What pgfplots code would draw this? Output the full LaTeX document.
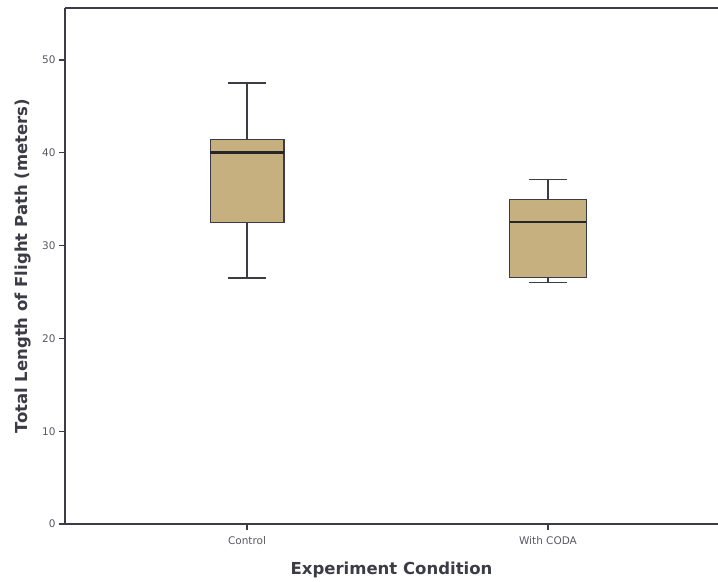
\documentclass[border=0pt]{standalone}
\usepackage{pgfplots}
\pgfplotsset{compat=1.18}
\usepackage{fontspec}
\setmainfont{DejaVu Sans}
\definecolor{boxfill}{RGB}{198,176,128}
\definecolor{axcol}{RGB}{60,60,70}
\begin{document}
\begin{tikzpicture}
\begin{axis}[
  scale only axis,
  width=653pt, height=516pt,
  xmin=0.395, xmax=2.565,
  ymin=0, ymax=55.6,
  axis lines=left,
  axis line style={-, draw=axcol, line width=1.2pt},
  ytick={0,10,20,30,40,50},
  xtick={1,2},
  xticklabels={Control, With CODA},
  tick align=outside,
  major tick length=6pt,
  tick style={draw=axcol, line width=1.2pt},
  tick label style={font=\fontsize{10.5}{12}\selectfont, text=axcol!85},
  xticklabel style={yshift=-3pt},
  /pgf/number format/assume math mode=true,
  xlabel={\bfseries Experiment Condition},
  ylabel={\bfseries Total Length of Flight Path (meters)},
  label style={font=\fontsize{16.5}{19}\selectfont, text=axcol},
  xlabel style={yshift=-10pt},
  ylabel style={yshift=4pt},
]
% Control
\addplot[draw=axcol, line width=1.4pt] coordinates {(1,26.5) (1,32.5)};
\addplot[draw=axcol, line width=1.4pt] coordinates {(1,41.4) (1,47.5)};
\addplot[draw=axcol, line width=1.4pt] coordinates {(0.9375,26.5) (1.0625,26.5)};
\addplot[draw=axcol, line width=1.4pt] coordinates {(0.9375,47.5) (1.0625,47.5)};
\addplot[fill=boxfill, draw=axcol, line width=1.2pt] coordinates {(0.8775,32.5) (1.1225,32.5) (1.1225,41.4) (0.8775,41.4)} -- cycle;
\addplot[draw=black!85, line width=2.6pt] coordinates {(0.8775,40.0) (1.1225,40.0)};
% With CODA
\addplot[draw=axcol, line width=1.4pt] coordinates {(2,26.0) (2,26.6)};
\addplot[draw=axcol, line width=1.4pt] coordinates {(2,35.0) (2,37.1)};
\addplot[draw=axcol, line width=1.4pt] coordinates {(1.9375,26.0) (2.0625,26.0)};
\addplot[draw=axcol, line width=1.4pt] coordinates {(1.9375,37.1) (2.0625,37.1)};
\addplot[fill=boxfill, draw=axcol, line width=1.2pt] coordinates {(1.8725,26.6) (2.1275,26.6) (2.1275,35.0) (1.8725,35.0)} -- cycle;
\addplot[draw=black!85, line width=2.2pt] coordinates {(1.8725,32.5) (2.1275,32.5)};
\draw[axcol, line width=1.2pt] (rel axis cs:0,1) -- (rel axis cs:1,1);
\coordinate (sw) at (rel axis cs:0,0);
\coordinate (ne) at (rel axis cs:1,1);
\end{axis}
\pgfresetboundingbox
\useasboundingbox ([xshift=-65pt,yshift=-58pt]sw) rectangle ([yshift=8pt]ne);
\end{tikzpicture}
\end{document}
